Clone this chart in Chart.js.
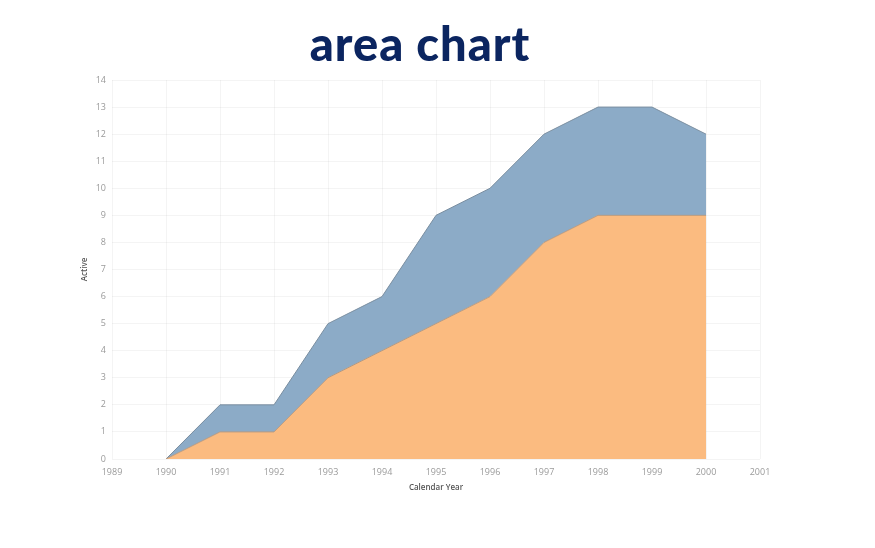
<!DOCTYPE html>
<html>
<head>
<meta charset="utf-8">
<script src="https://cdn.jsdelivr.net/npm/chart.js@4"></script>
<style>
  html, body { margin: 0; padding: 0; background: #fff; }
  #wrap { position: relative; width: 875px; height: 548px; }
  #title {
    position: absolute; left: 0; top: 15px; width: 840px; text-align: center;
    font-family: Lato, sans-serif; font-weight: 900; font-size: 47px;
    color: #0b2560; letter-spacing: 1px;
  }
  canvas { position: absolute; left: 0; top: 0; }
</style>
</head>
<body>
<div id="wrap">
  <canvas id="chart" width="875" height="548"></canvas>
  <div id="title">area chart</div>
</div>
<script>
// data
const years = [1990, 1991, 1992, 1993, 1994, 1995, 1996, 1997, 1998, 1999, 2000];
const orangeValues = [0, 1, 1, 3, 4, 5, 6, 8, 9, 9, 9];
const blueValues = [0, 1, 1, 2, 2, 4, 4, 4, 4, 4, 3];
const xTicks = [1989, 1990, 1991, 1992, 1993, 1994, 1995, 1996, 1997, 1998, 1999, 2000, 2001];
const yTicks = [0, 1, 2, 3, 4, 5, 6, 7, 8, 9, 10, 11, 12, 13, 14];

const toPoints = vals => years.map((y, i) => ({ x: y, y: vals[i] }));

const ctx = document.getElementById('chart').getContext('2d');
new Chart(ctx, {
    type: 'line',
    data: {
        datasets: [{
            label: 'Orange',
            data: toPoints(orangeValues),
            backgroundColor: '#fbbb80',
            borderColor: '#b89a80',
            borderWidth: 1,
            pointRadius: 0,
            fill: 'origin',
            tension: 0
        }, {
            label: 'Blue',
            data: toPoints(blueValues),
            backgroundColor: '#8cabc7',
            borderColor: '#7a8ea0',
            borderWidth: 1,
            pointRadius: 0,
            fill: '-1',
            tension: 0
        }]
    },
    options: {
        responsive: false,
        animation: false,
        layout: { padding: { left: 78, right: 115, top: 80, bottom: 53 } },
        plugins: {
            legend: { display: false },
            tooltip: { enabled: false }
        },
        scales: {
            x: {
                type: 'linear',
                min: xTicks[0],
                max: xTicks[xTicks.length - 1],
                afterBuildTicks: axis => { axis.ticks = xTicks.map(v => ({ value: v })); },
                afterFit: axis => { axis.height = 36; },
                grid: { color: 'rgba(0,0,0,0.045)', drawTicks: false },
                border: { display: false },
                ticks: {
                    callback: v => String(v),
                    color: '#9a9a9a',
                    font: { family: 'Open Sans', size: 9 },
                    padding: 8,
                    maxRotation: 0
                },
                title: {
                    display: true,
                    text: 'Calendar Year',
                    color: '#555',
                    font: { family: 'Open Sans', size: 8, weight: '600' },
                    padding: { top: 2, bottom: 2 }
                }
            },
            y: {
                stacked: true,
                min: 0,
                max: 14,
                afterBuildTicks: axis => { axis.ticks = yTicks.map(v => ({ value: v })); },
                afterFit: axis => { axis.width = 34; },
                grid: { color: 'rgba(0,0,0,0.045)', drawTicks: false },
                border: { display: false },
                ticks: {
                    color: '#9a9a9a',
                    font: { family: 'Open Sans', size: 9 },
                    padding: 6
                },
                title: {
                    display: true,
                    text: 'Active',
                    color: '#555',
                    font: { family: 'Open Sans', size: 8, weight: '600' },
                    padding: { top: 2, bottom: 2 }
                }
            }
        }
    }
});
</script>
</body>
</html>
